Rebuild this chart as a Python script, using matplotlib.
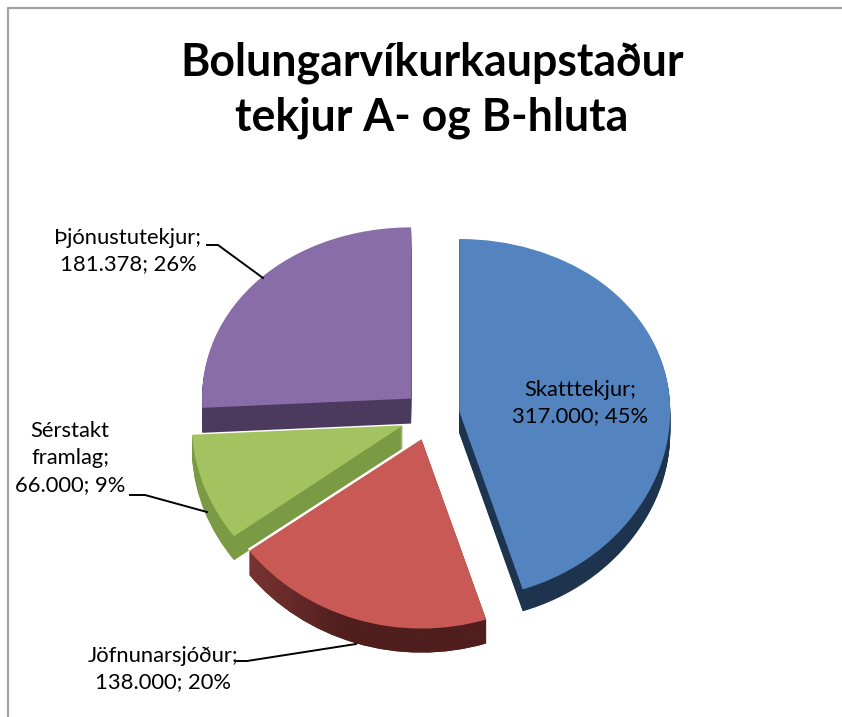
import numpy as np
import matplotlib
matplotlib.use("Agg")
from matplotlib import pyplot as plt
from matplotlib.colors import LinearSegmentedColormap
from matplotlib.patches import Wedge
from matplotlib.path import Path
from matplotlib.transforms import Affine2D, Transform

plt.rcParams['font.family'] = ['Lato', 'DejaVu Sans']

W, H = 842, 717

title = "Bolungarvíkurkaupstaður\ntekjur A- og B-hluta"
categories = ["Skatttekjur;", "Jöfnunarsjóður;", "Sérstakt\nframlag;", "Þjónustutekjur;"]
values = [317000, 138000, 66000, 181378]

colors = ["#5484c0", "#c85955", "#a3c361", "#896da8"]
side_colors = ["#1e344e", "#4f1e1d", "#7b9a44", "#4b3a5e"]
explode = [0.14, 0.129, 0.136, 0.125]

radius_x = [211, 215, 211, 209]
shift_y = [2, 0, 0, 3]
depth = [22, 24, 24, 25]
cx, cy = 430, 417

label_pos = [(580, 403), (163, 669), (70, 458), (128, 251)]

# leader lines, in pixels from the top left
leaders = [None,
           [(237, 661), (247, 661), (356, 644)],
           [(130, 495), (145, 495), (207, 512)],
           [(207, 245), (218, 245), (263, 278)]]


class Perspective(Transform):
    # back of the pie is a bit shorter than the front
    input_dims = 2
    output_dims = 2

    def transform_non_affine(self, xy):
        xy = np.asarray(xy, dtype=float)
        return np.column_stack([xy[:, 0], 180 * xy[:, 1] - 7.5 * xy[:, 1] ** 2])


fig = plt.figure(figsize=(W / 100, H / 100), dpi=100)
ax = fig.add_axes([0, 0, 1, 1])

wedges, _ = ax.pie(values, startangle=90, counterclock=False, explode=explode, colors=colors, radius=1)
ax.set_aspect('auto')
ax.axis('off')

red_side = LinearSegmentedColormap.from_list("red_side", [(0, "#7a3432"), (0.39, "#4f1e1d"), (1, "#4f1e1d")])

draw_order = [3, 2, 1, 0]
z = 1
persp = Perspective()
for i in draw_order:
    w = wedges[i]
    top = persp + Affine2D().scale(radius_x[i], 1).translate(cx, H - cy + shift_y[i])

    # white hairline between the red and green slices
    if i == 1:
        gap = Wedge(w.center, w.r, w.theta1, w.theta2, fc="white", ec="none", zorder=z,
                    transform=top + Affine2D().translate(-1.5, 2) + ax.transData)
        ax.add_patch(gap)
        z += 1

    layers = []
    for d in range(depth[i], 0, -1):
        tr = top + Affine2D().translate(0, -d)
        layers.append(tr.transform_path(w.get_path()))
        side = Wedge(w.center, w.r, w.theta1, w.theta2, fc=side_colors[i], ec="none", zorder=z,
                     transform=tr + ax.transData)
        ax.add_patch(side)
    z += 1

    # the red rim gets lighter to the left
    if i == 1:
        im = ax.imshow(np.linspace(0, 1, 256).reshape(1, -1), cmap=red_side, extent=(245, 500, 0, H), aspect='auto',
                       interpolation='bilinear', zorder=z)
        im.set_clip_path(Path.make_compound_path(*layers), ax.transData)
        z += 1

    w.set_transform(top + ax.transData)
    w.set_zorder(z)
    w.set_edgecolor("none")
    z += 1

ax.set_xlim(0, W)
ax.set_ylim(0, H)

# chart frame, only the top and left sides are in view
ax.plot([8, 8, W], [0, H - 8, H - 8], color="#a3a3a3", lw=1.6, zorder=1)

for line in leaders:
    if line is not None:
        ax.plot([p[0] for p in line], [H - p[1] for p in line], color="black", lw=1.4, zorder=20)

total = sum(values)
for cat, val, pos in zip(categories, values, label_pos):
    val_text = f"{val:,}".replace(",", ".")
    ax.text(pos[0], H - pos[1], f"{cat}\n{val_text}; {round(100 * val / total)}%", ha="center", va="center",
            fontsize=15.8, color="black", linespacing=1.43, zorder=30)

ax.text(432, H - 90, title, ha="center", va="center", fontsize=32.1, fontweight="bold", color="black",
        linespacing=1.38, zorder=30)

fig.savefig("out.png", dpi=100)
